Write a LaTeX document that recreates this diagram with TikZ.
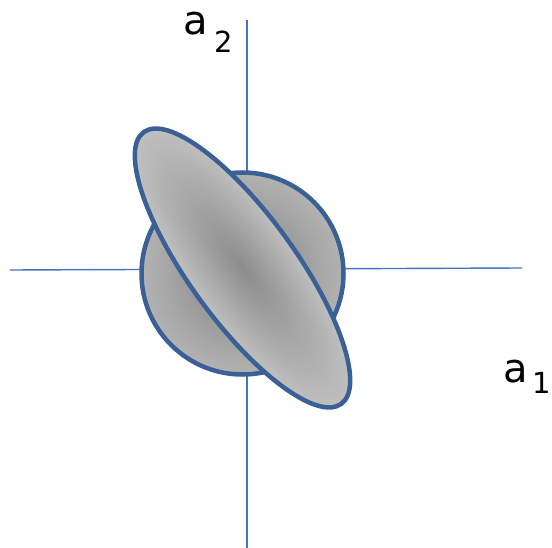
\documentclass[tikz,border=0pt]{standalone}
\usepackage{fontspec}
\setmainfont{DejaVu Sans}
\usetikzlibrary{positioning, calc}
\definecolor{axisblue}{RGB}{68,114,196}
\definecolor{rimblue}{RGB}{58,96,150}

\begin{document}
\begin{tikzpicture}[
  x=1pt, y=-1pt,
  axis/.style={axisblue,line width=1.4pt},
  blob/.style={draw=rimblue,line width=4.5pt,inner color=gray,outer color=gray!60},
  lbl/.style={anchor=base west,inner sep=0pt,font=\fontsize{40}{40}\selectfont}
]
  \useasboundingbox (0,0) rectangle (552,548);
  \coordinate (top) at (247,20);
  \coordinate (bot) at (247,548);
  \coordinate (left) at (10,270);
  \coordinate (right) at (522,268);
  \coordinate (o) at (242.5,273.5);
  \coordinate (ec) at (242.5,268);
  \draw[axis] (top) -- (bot);
  \draw[axis] (left) -- (right);
  \shade[blob] (o) circle (101);
  \begin{scope}[transform canvas={shift={(ec)},rotate=-54}]
    \shade[blob,inner color=gray!90,outer color=gray!50] (0,0) ellipse [x radius=168, y radius=53];
  \end{scope}
  \node[lbl] (a2) at (183,35) {a\hspace{7pt}\raisebox{-18pt}{\fontsize{29}{29}\selectfont 2}};
  \node[lbl] (a1) at (503,382) {a\hspace{5pt}\raisebox{-11pt}{\fontsize{29}{29}\selectfont 1}};
\end{tikzpicture}
\end{document}
